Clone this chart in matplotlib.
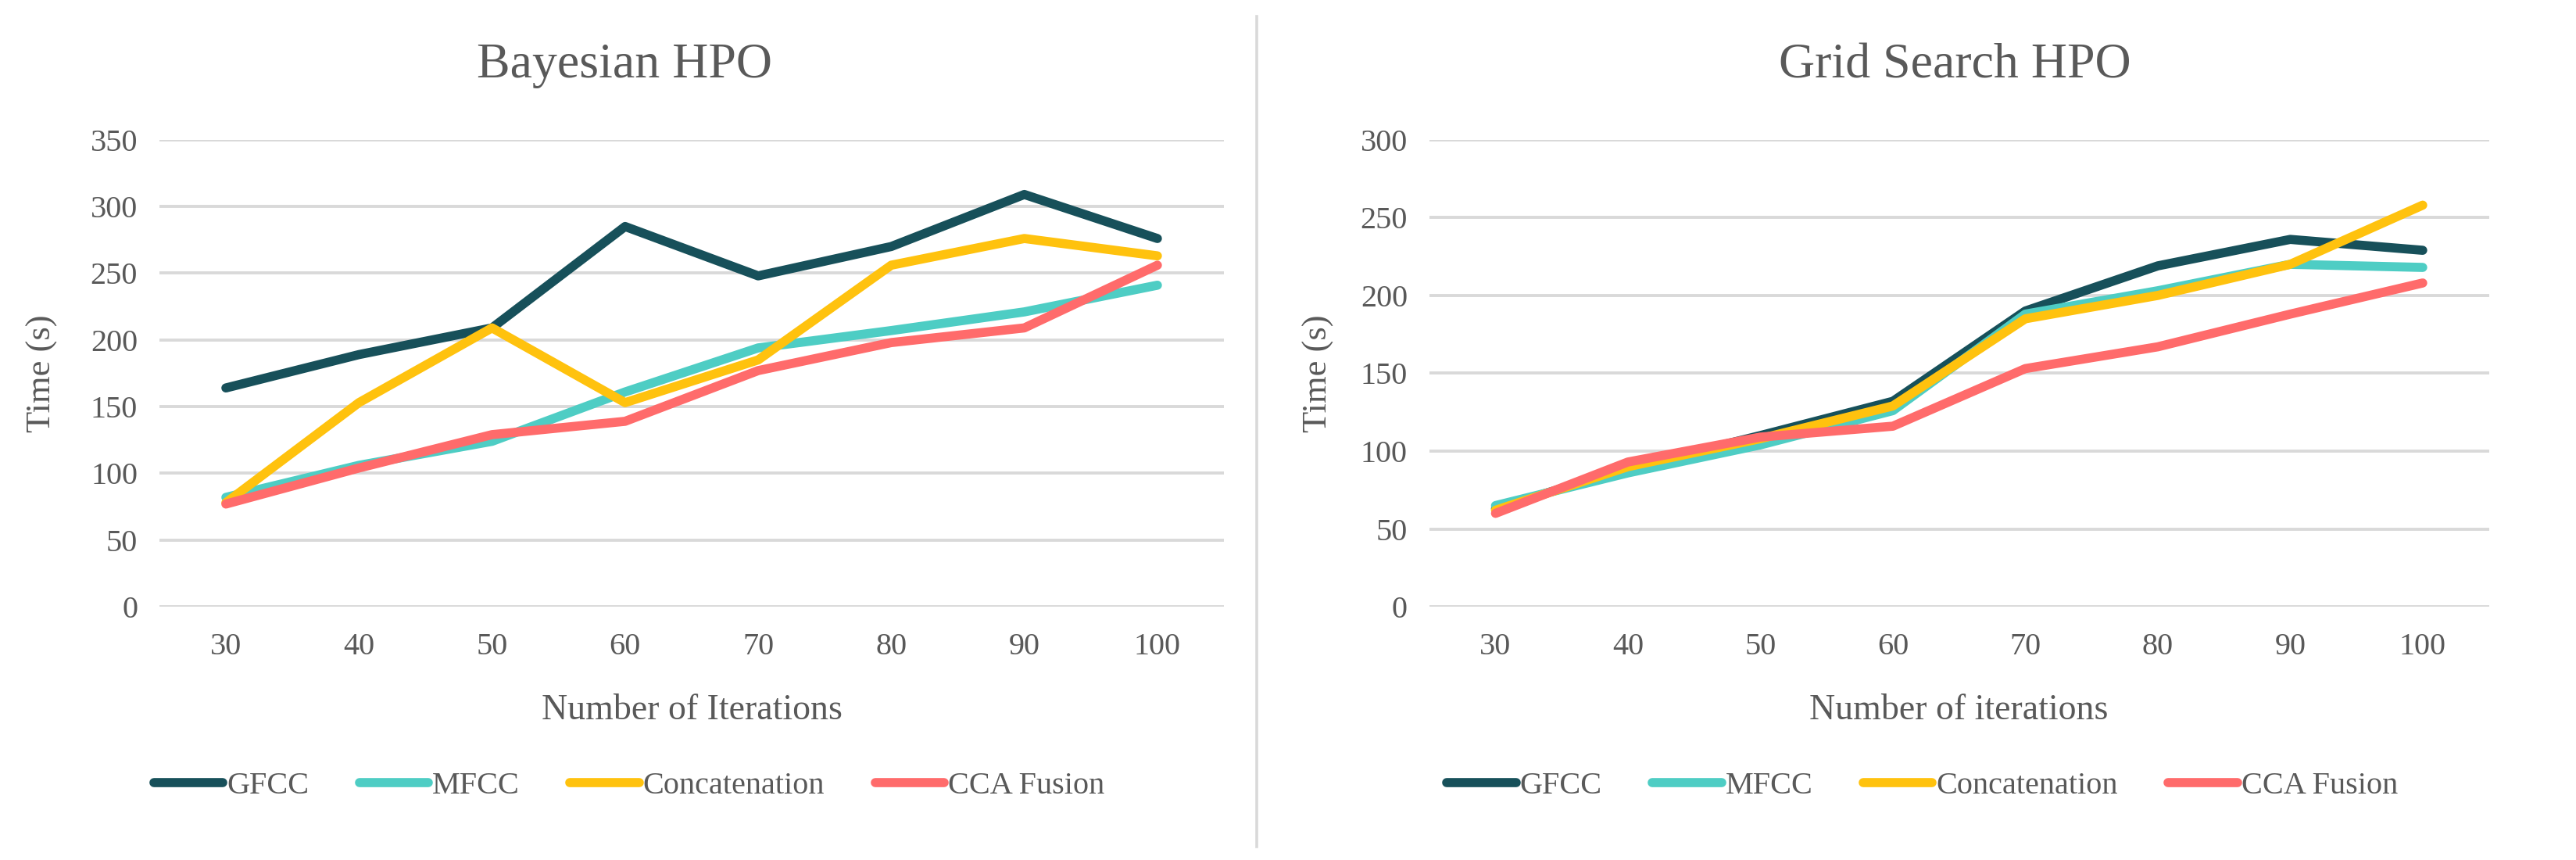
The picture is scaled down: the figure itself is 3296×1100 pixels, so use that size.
import matplotlib
matplotlib.use("Agg")
import matplotlib.pyplot as plt
from matplotlib.lines import Line2D

plt.rcParams['font.family'] = ['Liberation Serif', 'DejaVu Serif']

iterations = ["30", "40", "50", "60", "70", "80", "90", "100"]
series_names = ["GFCC", "MFCC", "Concatenation", "CCA Fusion"]
colors = ["#17505A", "#4ECDC4", "#FFC20E", "#FF6B6B"]

bayes_gfcc = [164, 189, 209, 285, 248, 270, 309, 276]
bayes_mfcc = [82, 106, 124, 161, 194, 207, 221, 241]
bayes_concat = [78, 153, 209, 153, 185, 256, 276, 263]
bayes_cca = [77, 104, 129, 139, 177, 198, 209, 256]

grid_gfcc = [63, 89, 110, 132, 190, 219, 236, 229]
grid_mfcc = [65, 86, 104, 126, 188, 203, 220, 218]
grid_concat = [62, 90, 108, 129, 185, 200, 220, 258]
grid_cca = [60, 93, 109, 116, 153, 167, 188, 208]

bayes_ticks = [0, 50, 100, 150, 200, 250, 300, 350]
grid_ticks = [0, 50, 100, 150, 200, 250, 300]

TXT = "#595959"
GRID = "#D9D9D9"
LW = 4.2

W, H = 1568.0, 523.0
fig = plt.figure(figsize=(16.48, 5.5), dpi=200)

def fx(x):
    return x / W

def fy(y):
    return 1 - y / H

def make_panel(left, right, top, bottom, series, ticks, title, title_x, xlabel, legend_x, ylabel_x):
    ax = fig.add_axes([fx(left), fy(bottom), fx(right) - fx(left), fy(top) - fy(bottom)])
    xs = list(range(len(iterations)))
    for vals, c, name in zip(series, colors, series_names):
        ax.plot(xs, vals, color=c, lw=LW, solid_capstyle='round',
                solid_joinstyle='round', label=name, zorder=3)
    ax.set_xlim(-0.5, len(iterations) - 0.5)
    ax.set_ylim(ticks[0], ticks[-1])
    ax.set_yticks(ticks)
    ax.set_xticks(xs)
    ax.set_xticklabels(iterations)
    ax.yaxis.grid(True, color=GRID, lw=1.4)
    ax.set_axisbelow(True)
    for s in ax.spines.values():
        s.set_visible(False)
    ax.tick_params(axis='both', length=0, labelsize=14.5, labelcolor=TXT)
    ax.tick_params(axis='x', pad=12)
    ax.tick_params(axis='y', pad=10)
    ax.set_ylabel("Time (s)", fontsize=16, color=TXT)
    ax.yaxis.set_label_coords((ylabel_x - left) / (right - left), 0.5)
    ax.set_xlabel(xlabel, fontsize=16.5, color=TXT)
    ax.xaxis.set_label_coords(0.5, (bottom - 422) / (bottom - top))
    fig.text(fx(title_x), fy(40), title, ha='center', va='center',
             fontsize=23, color=TXT)
    handles = [Line2D([0], [0], color=c, lw=LW, solid_capstyle='round') for c in colors]
    fig.legend(handles, series_names, loc='center', bbox_to_anchor=(fx(legend_x), fy(478)),
               ncol=4, frameon=False, fontsize=14.5, handlelength=2.2, handletextpad=0.12,
               columnspacing=1.6, labelcolor=TXT)
    return ax

ax1 = make_panel(97, 745, 85, 369, [bayes_gfcc, bayes_mfcc, bayes_concat, bayes_cca],
                 bayes_ticks, "Bayesian HPO", 380, "Number of Iterations", 383, 35)
ax2 = make_panel(870, 1515, 85, 369, [grid_gfcc, grid_mfcc, grid_concat, grid_cca],
                 grid_ticks, "Grid Search HPO", 1190, "Number of iterations", 1170, 812)

fig.add_artist(Line2D([fx(765), fx(765)], [fy(515), fy(10)], color=GRID, lw=1.3))

fig.savefig("out.png", dpi=200, facecolor="white")
